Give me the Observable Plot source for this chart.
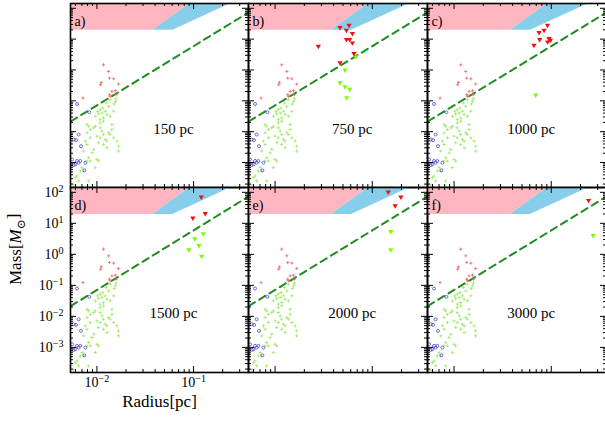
<!DOCTYPE html>
<html><head><meta charset="utf-8">
<script src="https://cdn.jsdelivr.net/npm/d3@7"></script>
<script src="https://cdn.jsdelivr.net/npm/@observablehq/plot@0.6"></script>
<style>
body{margin:0;background:#fff;}
#chart{position:relative;width:605px;height:421px;overflow:hidden;background:#fff;}
#chart svg{position:absolute;overflow:visible;background:none;}
</style></head><body><div id="chart"></div>
<script>
// ---------- data (radius in pc, mass in Msun) ----------
const smallRedR = [0.0117,0.0132,0.0111,0.0109,0.0135,0.0149,0.0167,0.0155,0.0143,0.0135,0.0158,0.0137,0.00718];
const smallRedM = [1.47,0.893,0.395,0.332,0.545,0.519,0.349,0.213,0.202,0.158,0.158,0.140,0.123];
const smallGreenR = [0.0158,0.0137,0.0151,0.0125,0.0115,0.0108,0.0102,0.0104,0.0113,0.0122,0.0127,0.0117,0.0108,0.0137,0.0149,0.0108,0.00962,0.00789,0.00820,0.00855,0.00925,0.0108,0.0113,0.0117,0.0122,0.0127,0.0132,0.0143,0.0137,0.0149,0.0161,0.0167,0.0167,0.0127,0.0117,0.0104,0.00855,0.00789,0.00925,0.00889,0.00820,0.00855,0.0100,0.0104,0.00789,0.00701,0.00729,0.00673,0.00622,0.00598,0.00647,0.00820,0.00575,0.00962,0.0155,0.0132,0.0117,0.0100,0.0108,0.0143,0.00789,0.00729,0.00962,0.00759];
const smallGreenM = [0.117,0.109,0.0791,0.0851,0.0587,0.0519,0.0458,0.0376,0.0405,0.0458,0.0358,0.0279,0.0247,0.0316,0.0458,0.0193,0.0316,0.0170,0.0150,0.0117,0.0133,0.0133,0.0104,0.00809,0.00558,0.00493,0.00916,0.0117,0.00809,0.00632,0.00493,0.00340,0.00235,0.00301,0.00385,0.00437,0.00632,0.00916,0.00266,0.00207,0.00143,0.00112,0.00126,0.00112,0.00112,0.000681,0.000532,0.000532,0.000366,0.000324,0.000253,0.000253,0.000188,0.0150,0.0964,0.0664,0.0218,0.00716,0.00632,0.0170,0.00385,0.00235,0.000681,0.00493];
const smallBlueR = [0.00622,0.00834,0.00647,0.00575,0.00608,0.00684,0.00553,0.00622,0.00647,0.00598,0.00575,0.00759,0.00741,0.00673];
const smallBlueM = [0.0791,0.0427,0.00809,0.00558,0.00532,0.00340,0.00126,0.00112,0.000986,0.000873,0.000830,0.000986,0.000558,0.00112];

// triangles (upper limits) per panel
const bRedR = [0.0279,0.0466,0.0577,0.0542,0.0625,0.0542,0.0586,0.0625,0.0649,0.0466];
const bRedM = [5.73,23.0,27.2,18.8,14.7,9.42,9.42,7.33,3.33,1.66];
const bGreenR = [0.0676,0.0525,0.0466,0.0525,0.0586,0.0546];
const bGreenM = [2.59,0.964,0.375,0.279,0.230,0.123];
const cRedR = [0.0914,0.0843,0.0748,0.0760,0.0948,0.0979,0.0918,0.0664];
const cRedM = [27.2,18.8,15.8,9.42,10.1,8.95,7.89,6.17];
const cGreenR = [0.0692];
const cGreenM = [0.150];
const dRedR = [0.120,0.0984,0.132];
const dRedM = [67.9,14.3,20.2];
const dGreenR = [0.126,0.103,0.114,0.0895,0.121];
const dGreenM = [4.49,3.09,1.88,1.36,0.849];
const eRedR = [0.146,0.197,0.172];
const eRedM = [98.6,67.9,35.9];
const eGreenR = [0.155,0.155];
const eGreenM = [5.32,1.36];
const fRedR = [0.242];
const fRedM = [53.2];
const fGreenR = [0.270];
const fGreenM = [3.95];

// threshold line and shaded regions
const lineR = [0.0054, 0.38];
const lineM = [0.0218, 77];
const pinkR = [0.004, 0.0375, 0.124, 0.004];
const pinkM = [20, 20, 300, 300];
const blueR = [0.0375, 0.0603, 0.393, 0.124];
const blueM = [20, 20, 300, 300];

const panelLetters = ["a)","b)","c)","d)","e)","f)"];
const panelDist = ["150 pc","750 pc","1000 pc","1500 pc","2000 pc","3000 pc"];
const distLabelR = 0.062, distLabelM = 0.0125;

const xTickMajor = [0.01, 0.1];
const xTickLabels = ["10^−2", "10^−1"];
const yTickMajor = [1e-3, 1e-2, 1e-1, 1e0, 1e1, 1e2];
const yTickLabels = ["10^−3","10^−2","10^−1","10^0","10^1","10^2"];

const X_DOMAIN = [0.00533, 0.37];
const Y_DOMAIN = [1.55e-4, 143];

// ---------- helpers ----------
const zip = (a, b) => a.map((v, i) => ({r: v, m: b[i]}));
const smallRed = zip(smallRedR, smallRedM);
const smallGreen = zip(smallGreenR, smallGreenM);
const smallBlue = zip(smallBlueR, smallBlueM);
const threshold = zip(lineR, lineM);
const pinkPoly = zip(pinkR, pinkM);
const bluePoly = zip(blueR, blueM);
const tris = [
  {red: [], green: []},
  {red: zip(bRedR, bRedM), green: zip(bGreenR, bGreenM)},
  {red: zip(cRedR, cRedM), green: zip(cGreenR, cGreenM)},
  {red: zip(dRedR, dRedM), green: zip(dGreenR, dGreenM)},
  {red: zip(eRedR, eRedM), green: zip(eGreenR, eGreenM)},
  {red: zip(fRedR, fRedM), green: zip(fGreenR, fGreenM)}
];

const isDecade = v => Math.abs(Math.log10(v) - Math.round(Math.log10(v))) < 1e-9;
const xTickMinor = d3.scaleLog().domain(X_DOMAIN).ticks().filter(v => !isDecade(v));
const yTickMinor = d3.scaleLog().domain(Y_DOMAIN).ticks().filter(v => !isDecade(v));

const triDown = {
  draw(ctx, size) {
    const h = Math.sqrt(size);
    ctx.moveTo(-h * 0.62, -h * 0.45);
    ctx.lineTo(h * 0.62, -h * 0.45);
    ctx.lineTo(0, h * 0.6);
    ctx.closePath();
  }
};

const colLeft = [70, 248, 427], colW = [178, 179, 179];
const rowTop = [3, 187], rowH = [184, 185];
const FONT = "'Liberation Serif', 'DejaVu Serif', serif";

const chart = document.getElementById("chart");

for (let i = 0; i < 6; i++) {
  const col = i % 3, row = Math.floor(i / 3);
  const W = colW[col], H = rowH[row];
  const isD = i === 3;
  const mL = isD ? 70 : 0, mB = isD ? 49 : 0;
  const marks = [
    Plot.line(pinkPoly, {x: "r", y: "m", fill: "#ffb6c1", stroke: "none", clip: true}),
    Plot.line(bluePoly, {x: "r", y: "m", fill: "#87ceeb", stroke: "none", clip: true}),
    Plot.line(threshold, {x: "r", y: "m", stroke: "#1e8c1e", strokeWidth: 2, strokeDasharray: "7,5", clip: true}),
    Plot.dot(smallGreen, {x: "r", y: "m", symbol: "plus", r: 1.1, stroke: "#96e85a", strokeWidth: 0.8, fill: "none"}),
    Plot.dot(smallRed, {x: "r", y: "m", symbol: "plus", r: 1.1, stroke: "#f06262", strokeWidth: 0.8, fill: "none"}),
    Plot.dot(smallBlue, {x: "r", y: "m", symbol: "circle", r: 1.5, stroke: "#4a4ad0", strokeWidth: 0.8, fill: "none"}),
    Plot.dot(tris[i].green, {x: "r", y: "m", symbol: triDown, r: 2.4, fill: "#7cfc00", stroke: "none"}),
    Plot.dot(tris[i].red, {x: "r", y: "m", symbol: triDown, r: 2.4, fill: "#ee1111", stroke: "none"}),
    // inward ticks on all four sides
    Plot.tickX(xTickMajor, {x: d => d, insetTop: H - 6, stroke: "black"}),
    Plot.tickX(xTickMajor, {x: d => d, insetBottom: H - 6, stroke: "black"}),
    Plot.tickX(xTickMinor, {x: d => d, insetTop: H - 3, stroke: "black"}),
    Plot.tickX(xTickMinor, {x: d => d, insetBottom: H - 3, stroke: "black"}),
    Plot.tickY(yTickMajor, {y: d => d, insetRight: W - 6, stroke: "black"}),
    Plot.tickY(yTickMajor, {y: d => d, insetLeft: W - 6, stroke: "black"}),
    Plot.tickY(yTickMinor, {y: d => d, insetRight: W - 3, stroke: "black"}),
    Plot.tickY(yTickMinor, {y: d => d, insetLeft: W - 3, stroke: "black"}),
    Plot.frame({stroke: "black", strokeWidth: 1.6}),
    Plot.text([panelLetters[i]], {text: d => d, frameAnchor: "top-left", dx: 4, dy: 13, textAnchor: "start", fontSize: 14, fill: "black"}),
    Plot.text([panelDist[i]], {text: d => d, x: () => distLabelR, y: () => distLabelM, fontSize: 15, fill: "black"})
  ];
  if (isD) {
    marks.push(
      Plot.text(yTickMajor, {y: d => d, text: (d, j) => yTickLabels[j], frameAnchor: "left", textAnchor: "end", dx: -7, fontSize: 14, fill: "black"}),
      Plot.text(xTickMajor, {x: d => d, text: (d, j) => xTickLabels[j], frameAnchor: "bottom", lineAnchor: "top", dy: 5, fontSize: 14, fill: "black"}),
      Plot.text(["Mass[M⊙]"], {text: d => d, frameAnchor: "left", rotate: -90, dx: -55, dy: 5, fontSize: 17, fill: "black"}),
      Plot.text(["Radius[pc]"], {text: d => d, frameAnchor: "bottom", dy: 34, fontSize: 17, fill: "black"})
    );
  }
  const svg = Plot.plot({
    width: W + mL, height: H + mB,
    marginLeft: mL, marginRight: 0, marginTop: 0, marginBottom: mB,
    x: {type: "log", domain: X_DOMAIN, axis: null},
    y: {type: "log", domain: Y_DOMAIN, axis: null},
    style: {background: "none", overflow: "visible", fontFamily: FONT},
    marks
  });
  svg.style.left = (colLeft[col] - mL) + "px";
  svg.style.top = rowTop[row] + "px";
  chart.appendChild(svg);

  // typeset superscripts / subscripts as real text
  d3.select(svg).selectAll("text").each(function () {
    const t = this.textContent;
    const sel = d3.select(this);
    const m = /^10\^(.+)$/.exec(t);
    if (m) {
      sel.text("");
      sel.append("tspan").text("10");
      sel.append("tspan").attr("dy", "-0.5em").attr("font-size", "0.72em").text(m[1]);
    } else if (t === "Mass[M⊙]") {
      sel.text("");
      sel.append("tspan").text("Mass[");
      sel.append("tspan").attr("font-style", "italic").text("M");
      sel.append("tspan").attr("dy", "0.3em").attr("font-size", "0.7em").text("⊙");
      sel.append("tspan").attr("dy", "-0.3em").text("]");
    }
  });
}
</script>
</body></html>
